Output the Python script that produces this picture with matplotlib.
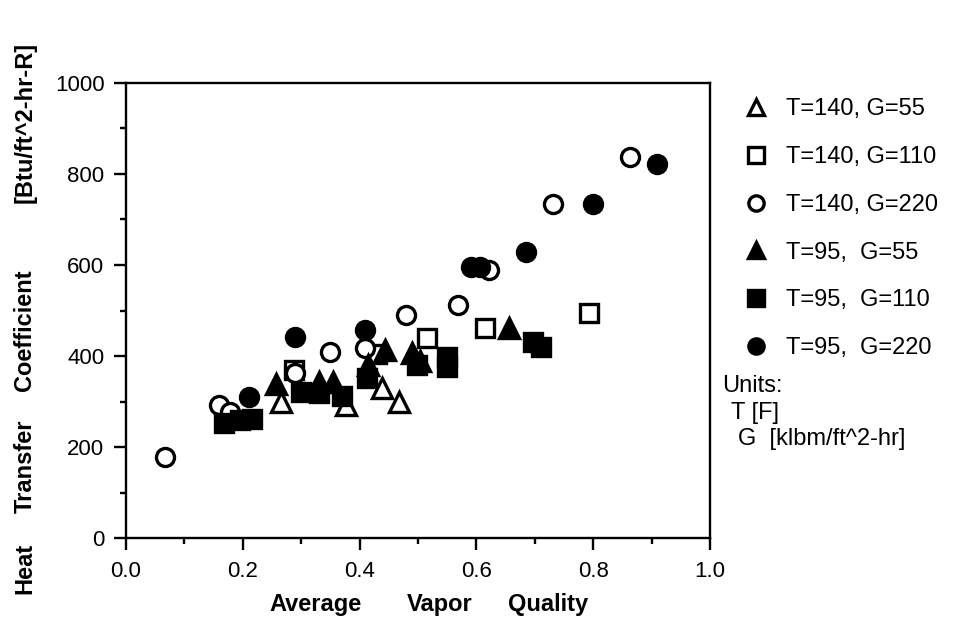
import matplotlib
matplotlib.use("Agg")
import matplotlib.pyplot as plt
from matplotlib.ticker import MultipleLocator

plt.rcParams['font.family'] = ['Liberation Sans', 'DejaVu Sans']

# Data (average vapor quality, heat transfer coefficient)
t140_g55_x = [0.266, 0.376, 0.439, 0.467]
t140_g55_y = [300, 292, 330, 300]

t140_g110_x = [0.287, 0.430, 0.515, 0.615, 0.793]
t140_g110_y = [369, 405, 439, 461, 494]

t140_g220_x = [0.067, 0.159, 0.178, 0.289, 0.350, 0.410, 0.479, 0.569, 0.621, 0.731, 0.863]
t140_g220_y = [178, 292, 277, 362, 409, 417, 490, 512, 589, 734, 837]

t95_g55_x = [0.256, 0.331, 0.354, 0.415, 0.444, 0.489, 0.504, 0.656]
t95_g55_y = [338, 343, 343, 380, 413, 406, 390, 461]

t95_g110_x = [0.168, 0.195, 0.215, 0.300, 0.330, 0.370, 0.412, 0.499, 0.550, 0.550, 0.697, 0.711]
t95_g110_y = [252, 259, 261, 320, 318, 312, 352, 380, 398, 376, 431, 420]

t95_g220_x = [0.210, 0.289, 0.410, 0.590, 0.607, 0.685, 0.800, 0.909]
t95_g220_y = [310, 442, 457, 595, 595, 629, 734, 822]

labels = ["T=140, G=55", "T=140, G=110", "T=140, G=220",
          "T=95,  G=55", "T=95,  G=110", "T=95,  G=220"]

xlabel_words = ["Average", "Vapor", "Quality"]
ylabel_words = ["Heat", "Transfer", "Coefficient", "[Btu/ft^2-hr-R]"]
units_lines = ["Units:", "T [F]", "G  [klbm/ft^2-hr]"]

fig = plt.figure(figsize=(9.62, 6.23), dpi=100)
ax = fig.add_axes([0.131, 0.1364, 0.607, 0.7304])

ew = 2.4
series = [
    (t140_g55_x, t140_g55_y, '^', 14, 'white'),
    (t140_g110_x, t140_g110_y, 's', 12.5, 'white'),
    (t140_g220_x, t140_g220_y, 'o', 13, 'white'),
    (t95_g55_x, t95_g55_y, '^', 14, 'black'),
    (t95_g110_x, t95_g110_y, 's', 12.5, 'black'),
    (t95_g220_x, t95_g220_y, 'o', 13, 'black'),
]
handles = []
for (xs, ys, m, ms, fc), lab in zip(series, labels):
    h, = ax.plot(xs, ys, linestyle='none', marker=m, markersize=ms,
                 markerfacecolor=fc, markeredgecolor='black',
                 markeredgewidth=ew, label=lab)
    handles.append(h)

ax.set_xlim(0, 1.0)
ax.set_ylim(0, 1000)
ax.xaxis.set_minor_locator(MultipleLocator(0.1))
ax.yaxis.set_major_locator(MultipleLocator(200))
ax.yaxis.set_minor_locator(MultipleLocator(100))
ax.set_xticks([0.0, 0.2, 0.4, 0.6, 0.8, 1.0])
ax.set_xticklabels(["0.0", "0.2", "0.4", "0.6", "0.8", "1.0"])
for s in ax.spines.values():
    s.set_linewidth(1.7)
ax.tick_params(which='major', direction='out', length=8.5, width=1.7,
               labelsize=16)
ax.tick_params(axis='y', which='major', pad=7)
ax.tick_params(axis='x', which='major', pad=8)
ax.tick_params(which='minor', direction='out', length=4.3, width=1.7)

# y label, word by word (centres in figure pixels from top)
for word, yc in zip(ylabel_words, [568, 466, 330, 122]):
    fig.text(25 / 962, 1 - yc / 623, word, rotation=90, ha='center',
             va='center', fontsize=17, fontweight='bold')
for word, xc in zip(xlabel_words, [316, 440, 548]):
    fig.text(xc / 962, 1 - 605 / 623, word, ha='center', va='center',
             fontsize=17, fontweight='bold')

leg = fig.legend(handles=handles, loc='upper left',
                 bbox_to_anchor=(0.774, 0.842), frameon=False,
                 fontsize=17, handlelength=1.0, handletextpad=0.75,
                 labelspacing=1.09, borderaxespad=0, borderpad=0)
for h in leg.legend_handles:
    h.set_markersize(11)
    h.set_markeredgewidth(2.4)

for line, (xp, yp) in zip(units_lines, [(722, 386), (731, 413), (738, 439)]):
    fig.text(xp / 962, 1 - yp / 623, line, fontsize=17, va='center')

fig.savefig("out.png", dpi=100)
